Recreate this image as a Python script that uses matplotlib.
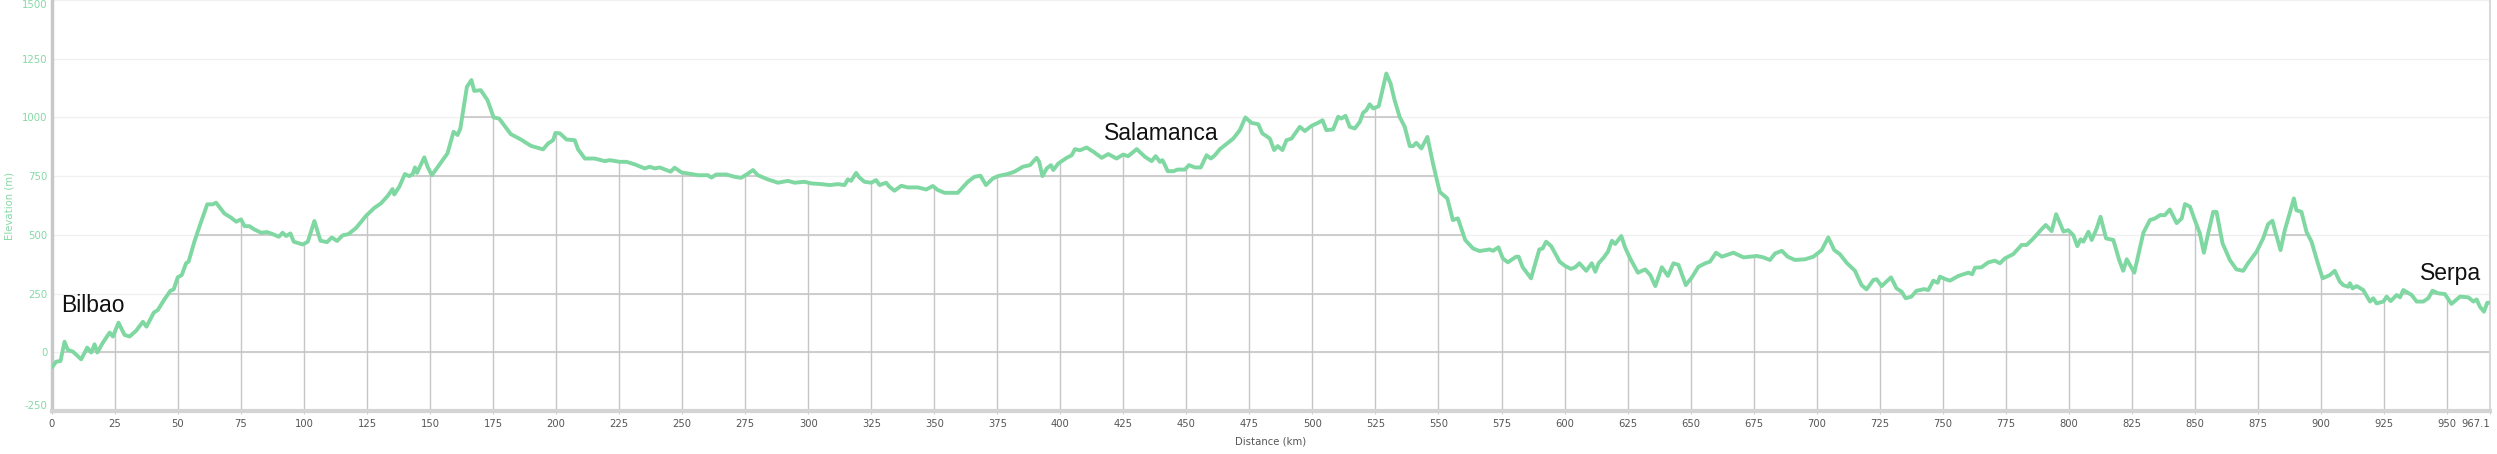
import numpy as np
import matplotlib
matplotlib.use('Agg')
import matplotlib.pyplot as plt
from matplotlib.patches import Polygon

# 距離(km)と標高(m) 区間ごと
dist_a = [0, 1.7, 3.4, 5.0, 6.3, 8.3, 11.6, 14.0, 15.6, 16.9,
          18.0, 20.2, 22.9, 24.2, 26.4, 28.8, 30.8, 33.4, 36.1, 37.5,
          40.4, 42.0, 44.6, 47.0, 48.3, 49.9, 51.5, 53.2, 54.2, 56.5,
          58.5, 61.6, 63.8, 65.1, 68.4, 71.1, 73.1, 75.0, 76.4, 78.3,
          80.3, 83.0, 85.3, 87.6, 90.0, 91.5, 92.9, 94.6, 95.9, 99.5,
          101.5, 104.1, 106.5, 109.1, 111.0, 113.1, 115.3, 117.6, 120.6, 124.6,
          127.9, 130.5, 133.2, 135.1, 135.8, 137.8, 140.0, 141.7, 143.1, 144.0,
          144.8, 147.7, 149.0, 150.7, 154.3, 156.9, 159.3, 160.9, 162.0, 164.6,
          166.4, 167.5, 170.1, 172.8, 175.2, 177.4, 182.0, 186.0, 190.0]
elev_a = [-64, -40, -37, 45, 10, 3, -30, 20, -1, 34,
          -1, 41, 84, 67, 126, 74, 67, 92, 130, 109,
          169, 180, 225, 262, 268, 319, 329, 379, 386, 471,
          535, 630, 630, 637, 591, 573, 556, 566, 537, 537,
          523, 509, 512, 503, 492, 509, 495, 506, 471, 459,
          471, 559, 475, 469, 489, 474, 498, 503, 529, 581,
          615, 634, 666, 695, 672, 705, 759, 750, 759, 787,
          764, 830, 790, 754, 808, 847, 939, 925, 953, 1130,
          1159, 1113, 1116, 1073, 1000, 995, 929, 906, 879]

dist_b = [194.8, 196.8, 198.8, 199.7, 201.5, 204.1, 207.4, 208.7, 211.4, 215.3,
          219.3, 221.3, 225.2, 227.9, 231.2, 235.1, 237.1, 239.1, 241.1, 245.4,
          247.0, 249.7, 253.6, 256.3, 260.2, 261.6, 263.5, 267.5, 270.8, 273.4,
          276.1, 278.1, 280.0, 284.0, 288.0, 291.9, 294.6, 298.5, 301.2, 305.2,
          308.5, 311.8, 314.4, 315.7, 317.0, 319.0, 320.3, 322.3, 325.0, 326.9,
          328.3, 330.9, 332.2, 334.2, 336.9, 339.5, 343.5, 346.8, 349.4, 351.4,
          354.1, 359.3, 363.3, 365.9, 368.3, 370.5, 373.2, 375.2, 379.1, 381.8,
          385.1]
elev_b = [864, 889, 903, 934, 932, 906, 903, 864, 825, 825,
          814, 818, 811, 811, 800, 783, 790, 783, 787, 769,
          786, 766, 759, 754, 754, 744, 757, 757, 747, 743,
          761, 776, 754, 736, 722, 730, 722, 726, 719, 716,
          712, 716, 712, 736, 730, 764, 744, 726, 722, 733,
          712, 722, 705, 688, 709, 702, 702, 693, 708, 691,
          679, 679, 726, 747, 752, 712, 740, 750, 759, 769,
          790]

dist_c = [388.0, 390.6, 391.6, 392.9, 394.6, 396.3, 397.2, 399.2, 402.5, 404.5,
          405.8, 407.8, 410.4, 413.1, 416.4, 419.0, 422.3, 424.9, 426.9, 430.3,
          433.6, 436.2, 437.8, 439.5, 440.5, 441.5, 442.6, 444.8, 446.5, 449.4,
          451.0, 453.4, 455.7, 458.0, 459.7, 461.3, 463.3, 465.3, 468.6, 471.2,
          473.4, 475.8, 478.5, 480.1, 481.8, 483.1, 484.8, 486.2, 488.1, 489.7,
          491.7, 495.0, 497.0, 499.6, 502.2, 504.0, 505.5, 508.2, 510.2, 511.5,
          513.1, 514.8, 516.8, 518.8, 520.1, 521.4, 522.7, 524.1, 526.3, 529.3,
          531.0, 532.6, 534.6, 536.6, 538.6, 539.9, 541.2, 543.2, 545.6, 547.8,
          550.5, 553.5, 555.7, 557.7, 560.6, 563.7, 566.3, 570.3, 571.6, 573.8,
          575.5, 577.5, 580.8]
elev_c = [797, 828, 811, 750, 783, 797, 776, 804, 828, 839,
          865, 860, 872, 854, 828, 844, 825, 842, 835, 865,
          832, 814, 835, 811, 818, 797, 771, 771, 778, 778,
          797, 787, 787, 839, 825, 839, 865, 882, 910, 946,
          1000, 977, 971, 932, 920, 910, 861, 878, 861, 903,
          910, 960, 942, 964, 977, 988, 946, 949, 1003, 995,
          1007, 960, 953, 981, 1020, 1031, 1056, 1038, 1048, 1187,
          1144, 1073, 1002, 960, 878, 878, 892, 868, 917, 804,
          683, 655, 563, 570, 478, 442, 431, 438, 432, 447,
          400, 383, 407]

dist_d = [581.8, 583.4, 586.7, 588.4, 590.0, 591.3, 592.7, 594.7, 597.0, 598.0,
          600.3, 602.6, 604.2, 605.9, 608.6, 610.8, 612.2, 613.5, 615.5, 617.2,
          618.8, 620.1, 622.5, 624.0, 626.0, 629.1, 632.0, 634.0, 636.0, 638.6,
          641.0, 643.2, 645.2, 648.1, 650.5, 653.1, 655.8, 657.7, 660.1, 662.4,
          667.0, 671.0, 676.2, 678.9, 681.5, 683.5, 686.2, 688.5, 691.4, 695.4,
          698.7, 702.0, 704.6, 707.0, 709.2, 711.9, 715.2, 717.8, 719.8, 722.5,
          723.8, 725.8, 729.5, 731.7, 733.7, 735.3, 737.6, 739.6, 742.7, 744.3,
          746.3, 748.0, 748.9, 751.2, 752.9, 756.2, 760.2, 761.7, 762.8, 765.4,
          768.1, 770.7, 772.7]
elev_d = [407, 362, 315, 379, 438, 442, 471, 452, 407, 386,
          367, 355, 362, 379, 347, 379, 343, 379, 403, 428,
          475, 461, 495, 447, 400, 339, 353, 329, 282, 362,
          325, 379, 372, 286, 319, 364, 379, 386, 424, 407,
          424, 404, 410, 404, 393, 421, 432, 407, 393, 396,
          407, 435, 489, 435, 418, 381, 347, 286, 268, 308,
          311, 282, 319, 272, 258, 230, 237, 262, 269, 265,
          305, 296, 322, 311, 305, 325, 339, 332, 360, 362,
          383, 390, 379]

dist_e = [774.7, 778.0, 781.3, 783.3, 786.0, 789.3, 790.9, 793.2, 795.0, 797.9,
          799.8, 801.8, 803.4, 804.7, 805.8, 807.8, 809.1, 811.1, 812.6, 814.8,
          817.7, 820.0, 821.6, 823.0, 826.0, 829.6, 832.2, 834.2, 836.2, 838.1,
          840.1, 842.8, 844.8, 846.1, 848.1, 850.0, 852.0, 853.6, 855.3, 857.3,
          858.6, 861.0, 863.9, 866.5, 869.2, 871.1, 874.5, 877.1, 879.1, 880.8,
          881.7, 884.0, 885.7, 887.7, 889.3, 890.3, 892.3, 894.3, 896.3, 899.0,
          900.7, 903.6, 905.5, 907.5, 908.9, 910.9, 911.5, 912.6, 914.2, 916.8,
          919.5, 920.8, 922.1, 924.8, 926.1, 927.7, 930.1, 931.4, 932.7, 936.0,
          938.0, 940.6, 942.6, 944.3, 946.6, 949.2, 951.8, 955.2, 958.5, 960.5,
          961.8, 963.1, 964.7, 966.0, 967.1]
elev_e = [400, 418, 457, 457, 485, 525, 542, 516, 588, 514,
          520, 499, 452, 481, 471, 513, 478, 528, 577, 485,
          478, 393, 347, 396, 339, 509, 563, 570, 584, 584,
          608, 550, 570, 631, 620, 563, 506, 424, 506, 598,
          598, 464, 393, 353, 347, 379, 428, 485, 546, 560,
          523, 435, 520, 594, 655, 605, 598, 513, 471, 372,
          315, 329, 347, 301, 286, 279, 294, 272, 282, 265,
          216, 230, 208, 216, 237, 218, 244, 234, 265, 244,
          216, 216, 230, 262, 251, 248, 206, 237, 234, 216,
          225, 194, 173, 211, 211]

x_ticks = [0, 25, 50, 75, 100, 125, 150, 175, 200, 225, 250, 275, 300, 325,
           350, 375, 400, 425, 450, 475, 500, 525, 550, 575, 600, 625, 650,
           675, 700, 725, 750, 775, 800, 825, 850, 875, 900, 925, 950, 967.1]
x_labels = [str(v) for v in x_ticks]
y_ticks = [-250, 0, 250, 500, 750, 1000, 1250, 1500]

places = ['Bilbao', 'Salamanca', 'Serpa']
place_km = [3.6, 417.3, 939.3]
place_elev = [172, 904, 308]

distance = np.concatenate([dist_a, dist_b, dist_c, dist_d, dist_e])
elevation = np.concatenate([elev_a, elev_b, elev_c, elev_d, elev_e])

green = '#7fd7a1'

fig = plt.figure(figsize=(24.97, 4.54), dpi=100)
ax = fig.add_axes([0.0208, 0.0947, 0.9764, 0.9053])
ax.set_xlim(0, 967.1)
ax.set_ylim(-250, 1500)

# 薄い横線
for v in y_ticks[1:]:
    ax.axhline(v, color='#f0f0f0', lw=1, zorder=0)

# 線の下の領域だけ濃いグリッドを出す
poly_x = np.r_[distance[0], distance, distance[-1]]
poly_y = np.r_[-250, elevation, -250]
under = Polygon(np.column_stack([poly_x, poly_y]), closed=True,
                transform=ax.transData, facecolor='none', edgecolor='none')
ax.add_patch(under)
for v in y_ticks[1:]:
    ln = ax.axhline(v, color='#cacaca', lw=1.3, zorder=1)
    ln.set_clip_path(under)
for v in x_ticks[1:-1]:
    ln = ax.axvline(v, color='#c6c6c6', lw=1, zorder=1)
    ln.set_clip_path(under)

ax.plot(distance, elevation, color=green, lw=2.8, zorder=3,
        solid_joinstyle='round', solid_capstyle='round')

# 地名
for name, xk, yk in zip(places, place_km, place_elev):
    ax.text(xk, yk, name, fontsize=16.5, family=['Liberation Sans', 'DejaVu Sans'],
            color='#111111', ha='left', va='baseline', zorder=4)

# 軸
ax.spines['top'].set_visible(False)
ax.spines['right'].set_color('#d9d9d9')
ax.spines['right'].set_linewidth(1.5)
ax.spines['left'].set_color('#c8c8c8')
ax.spines['left'].set_linewidth(2.5)
ax.spines['bottom'].set_color('#d4d4d4')
ax.spines['bottom'].set_linewidth(3)

ax.set_xticks(x_ticks, x_labels)
ax.set_yticks(y_ticks, [str(v) for v in y_ticks])
ax.tick_params(axis='x', length=2, color='#cccccc', labelsize=7.2,
               labelcolor='#555555', pad=4)
ax.tick_params(axis='y', length=0, labelsize=7.3, labelcolor='#86d8a6', pad=3)
ylabels = ax.get_yticklabels()
ylabels[0].set_va('bottom')
ylabels[-1].set_va('top')
# 最後の目盛ラベルは右寄せ
ax.get_xticklabels()[-1].set_ha('right')

ax.set_xlabel('Distance (km)', fontsize=7.3, color='#555555')
ax.xaxis.set_label_coords(0.5, -0.075)
ax.xaxis.label.set_va('center')
ax.set_ylabel('Elevation (m)', fontsize=7.3, color='#86d8a6')
ax.yaxis.set_label_coords(-0.0176, 0.5)
ax.yaxis.label.set_va('center')

fig.savefig('out.png', dpi=100)
